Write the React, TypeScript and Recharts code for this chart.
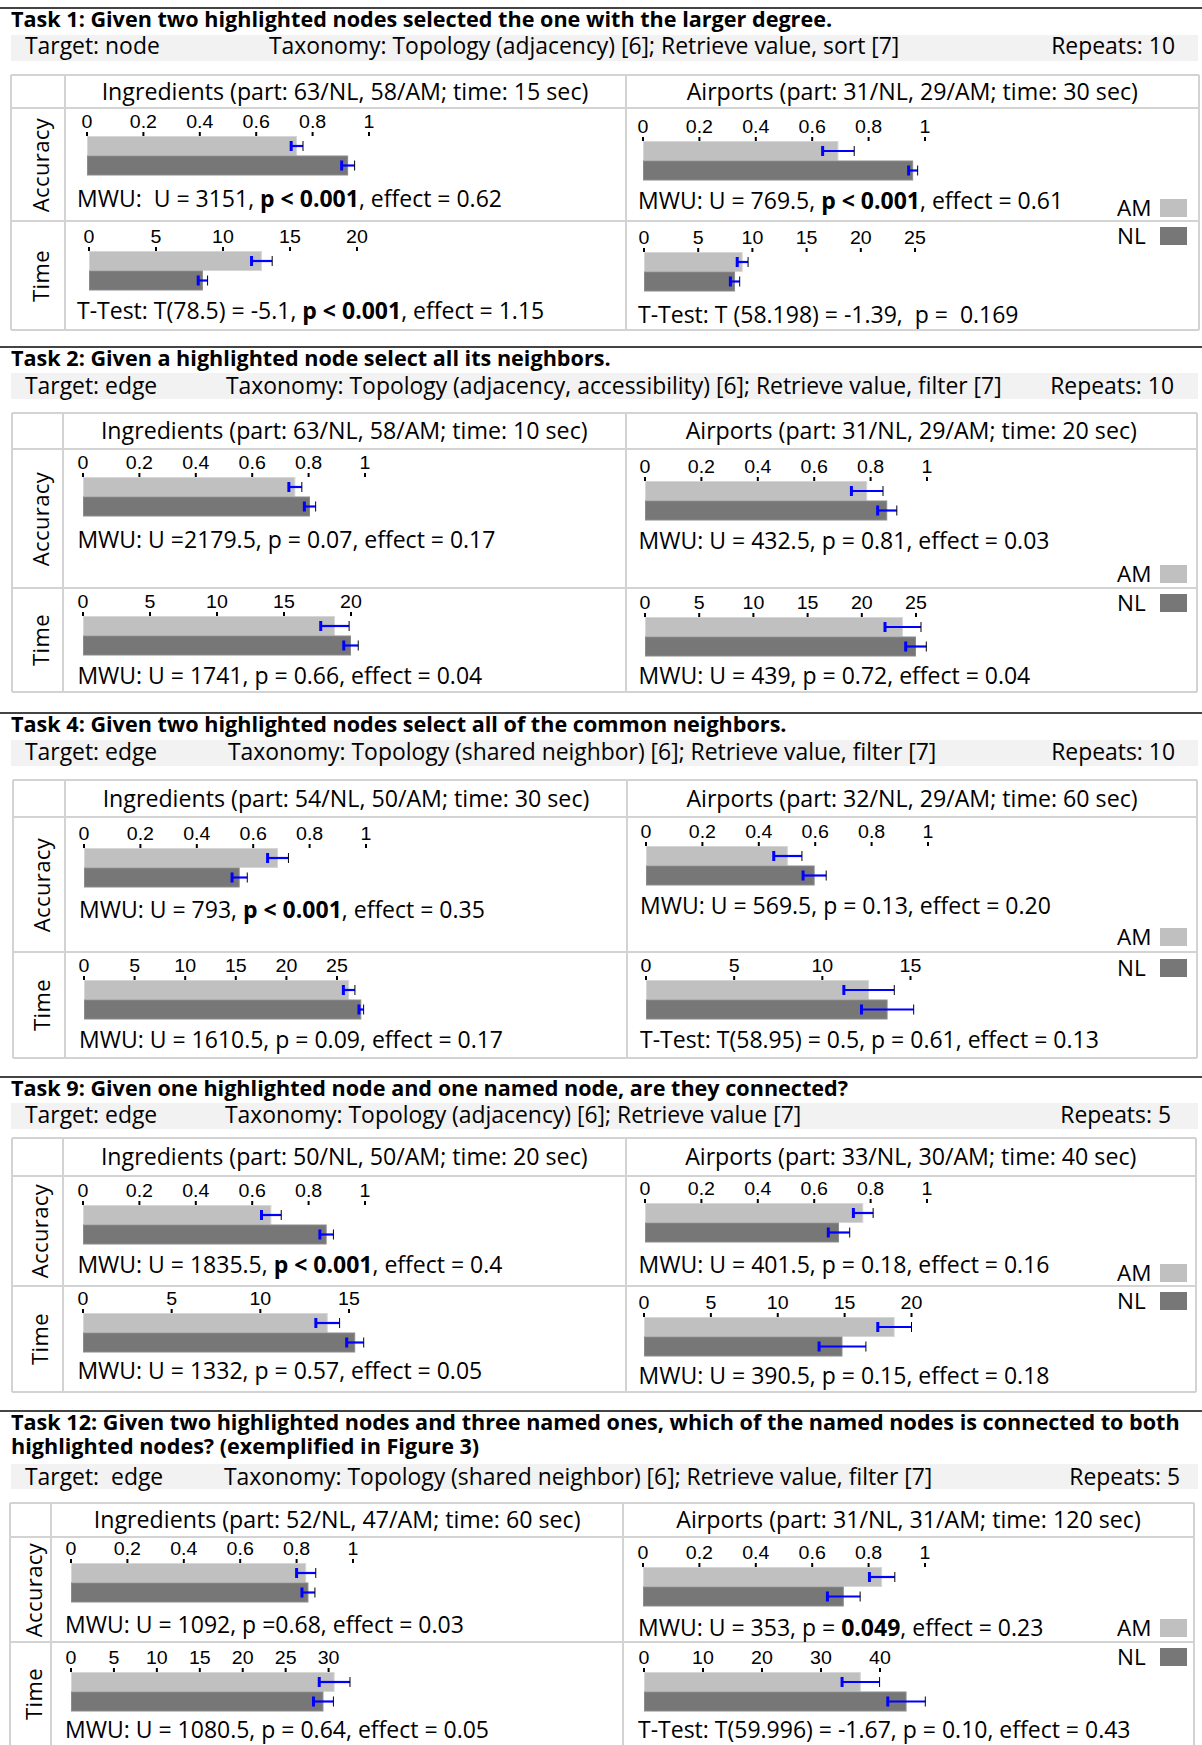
import React from 'react';
import { BarChart, Bar, XAxis, YAxis } from 'recharts';

// groups (bar order top -> bottom)
const groups = ['AM', 'NL'];
const groupFill = ['#c0c0c0', '#777777'];
const groupEdge = ['#d6d6d6', '#8c8c8c'];
const accTicks = [0, 0.2, 0.4, 0.6, 0.8, 1];

// task texts
const taskTitles = [
  'Task 1: Given two highlighted nodes selected the one with the larger degree.',
  'Task 2: Given a highlighted node select all its neighbors.',
  'Task 4: Given two highlighted nodes select all of the common neighbors.',
  'Task 9: Given one highlighted node and one named node, are they connected?',
  'Task 12: Given two highlighted nodes and three named ones, which of the named nodes is connected to both\nhighlighted nodes? (exemplified in Figure 3)',
];
const taskTargets = ['Target: node', 'Target: edge', 'Target: edge', 'Target: edge', 'Target:  edge'];
const taskTaxonomies = [
  'Taxonomy: Topology (adjacency) [6]; Retrieve value, sort [7]',
  'Taxonomy: Topology (adjacency, accessibility) [6]; Retrieve value, filter [7]',
  'Taxonomy: Topology (shared neighbor) [6]; Retrieve value, filter [7]',
  'Taxonomy: Topology (adjacency) [6]; Retrieve value [7]',
  'Taxonomy: Topology (shared neighbor) [6]; Retrieve value, filter [7]',
];
const taskRepeats = ['Repeats: 10', 'Repeats: 10', 'Repeats: 10', 'Repeats: 5', 'Repeats: 5'];
const ingHeaders = [
  'Ingredients (part: 63/NL, 58/AM; time: 15 sec)',
  'Ingredients (part: 63/NL, 58/AM; time: 10 sec)',
  'Ingredients (part: 54/NL, 50/AM; time: 30 sec)',
  'Ingredients (part: 50/NL, 50/AM; time: 20 sec)',
  'Ingredients (part: 52/NL, 47/AM; time: 60 sec)',
];
const airHeaders = [
  'Airports (part: 31/NL, 29/AM; time: 30 sec)',
  'Airports (part: 31/NL, 29/AM; time: 20 sec)',
  'Airports (part: 32/NL, 29/AM; time: 60 sec)',
  'Airports (part: 33/NL, 30/AM; time: 40 sec)',
  'Airports (part: 31/NL, 31/AM; time: 120 sec)',
];

// values [AM, NL] and error half-widths
const t1IngAcc = [0.745, 0.926], t1IngAccErr = [0.021, 0.023];
const t1IngTime = [12.9, 8.5], t1IngTimeErr = [0.77, 0.35];
const t1AirAcc = [0.693, 0.958], t1AirAccErr = [0.056, 0.016];
const t1AirTime = [9.1, 8.4], t1AirTimeErr = [0.5, 0.43];

const t2IngAcc = [0.753, 0.805], t2IngAccErr = [0.023, 0.02];
const t2IngTime = [18.8, 20.0], t2IngTimeErr = [1.06, 0.54];
const t2AirAcc = [0.788, 0.859], t2AirAccErr = [0.056, 0.034];
const t2AirTime = [23.8, 25.0], t2AirTimeErr = [1.66, 0.95];

const t4IngAcc = [0.688, 0.552], t4IngAccErr = [0.037, 0.027];
const t4IngTime = [26.2, 27.4], t4IngTimeErr = [0.57, 0.23];
const t4AirAcc = [0.503, 0.598], t4AirAccErr = [0.05, 0.041];
const t4AirTime = [12.65, 13.7], t4AirTimeErr = [1.43, 1.48];

const t9IngAcc = [0.668, 0.864], t9IngAccErr = [0.035, 0.024];
const t9IngTime = [13.8, 15.35], t9IngTimeErr = [0.67, 0.48];
const t9AirAcc = [0.774, 0.688], t9AirAccErr = [0.035, 0.038];
const t9AirTime = [18.74, 14.84], t9AirTimeErr = [1.26, 1.75];

const t12IngAcc = [0.834, 0.842], t12IngAccErr = [0.034, 0.023];
const t12IngTime = [30.7, 29.4], t12IngTimeErr = [1.79, 1.16];
const t12AirAcc = [0.848, 0.712], t12AirAccErr = [0.045, 0.058];
const t12AirTime = [36.75, 44.5], t12AirTimeErr = [3.18, 3.18];

// time axis ticks [ingredients, airports]
const t1TimeTicks = [[0, 5, 10, 15, 20], [0, 5, 10, 15, 20, 25]];
const t2TimeTicks = [[0, 5, 10, 15, 20], [0, 5, 10, 15, 20, 25]];
const t4TimeTicks = [[0, 5, 10, 15, 20, 25], [0, 5, 10, 15]];
const t9TimeTicks = [[0, 5, 10, 15], [0, 5, 10, 15, 20]];
const t12TimeTicks = [[0, 5, 10, 15, 20, 25, 30], [0, 10, 20, 30, 40]];

// stats lines: ingAcc, airAcc, ingTime, airTime (*...* = bold)
const t1Stats = ['MWU:  U = 3151, *p < 0.001*, effect = 0.62', 'MWU: U = 769.5, *p < 0.001*, effect = 0.61',
  'T-Test: T(78.5) = -5.1, *p < 0.001*, effect = 1.15', 'T-Test: T (58.198) = -1.39,  p =  0.169'];
const t2Stats = ['MWU: U =2179.5, p = 0.07, effect = 0.17', 'MWU: U = 432.5, p = 0.81, effect = 0.03',
  'MWU: U = 1741, p = 0.66, effect = 0.04', 'MWU: U = 439, p = 0.72, effect = 0.04'];
const t4Stats = ['MWU: U = 793, *p < 0.001*, effect = 0.35', 'MWU: U = 569.5, p = 0.13, effect = 0.20',
  'MWU: U = 1610.5, p = 0.09, effect = 0.17', 'T-Test: T(58.95) = 0.5, p = 0.61, effect = 0.13'];
const t9Stats = ['MWU: U = 1835.5, *p < 0.001*, effect = 0.4', 'MWU: U = 401.5, p = 0.18, effect = 0.16',
  'MWU: U = 1332, p = 0.57, effect = 0.05', 'MWU: U = 390.5, p = 0.15, effect = 0.18'];
const t12Stats = ['MWU: U = 1092, p =0.68, effect = 0.03', 'MWU: U = 353, p = *0.049*, effect = 0.23',
  'MWU: U = 1080.5, p = 0.64, effect = 0.05', 'T-Test: T(59.996) = -1.67, p = 0.10, effect = 0.43'];

const series = [
  [[t1IngAcc, t1IngAccErr], [t1AirAcc, t1AirAccErr], [t1IngTime, t1IngTimeErr], [t1AirTime, t1AirTimeErr]],
  [[t2IngAcc, t2IngAccErr], [t2AirAcc, t2AirAccErr], [t2IngTime, t2IngTimeErr], [t2AirTime, t2AirTimeErr]],
  [[t4IngAcc, t4IngAccErr], [t4AirAcc, t4AirAccErr], [t4IngTime, t4IngTimeErr], [t4AirTime, t4AirTimeErr]],
  [[t9IngAcc, t9IngAccErr], [t9AirAcc, t9AirAccErr], [t9IngTime, t9IngTimeErr], [t9AirTime, t9AirTimeErr]],
  [[t12IngAcc, t12IngAccErr], [t12AirAcc, t12AirAccErr], [t12IngTime, t12IngTimeErr], [t12AirTime, t12AirTimeErr]],
];
const timeTicks = [t1TimeTicks, t2TimeTicks, t4TimeTicks, t9TimeTicks, t12TimeTicks];
const stats = [t1Stats, t2Stats, t4Stats, t9Stats, t12Stats];

// page layout (px). charts: [zeroX, barTop, spanToLastTick] for ingAcc, airAcc, ingTime, airTime
const layouts = [
  { rule: 7, titleCap: 12, band: [35, 61], subCap: 39, taxX: 269, repRight: 1175,
    tx: [11, 64.5, 625.5, 1199], ty: [75, 108, 221, 330],
    charts: [[86.5, 136, 282], [643, 140.5, 282], [89.4, 251, 268], [644, 252, 271]],
    statX: [77, 638], statCap: [191, 193, 303, 307], legend: [199, 227] },
  { rule: 346, titleCap: 351, band: [373, 399], subCap: 379, taxX: 226, repRight: 1174,
    tx: [12, 63, 625.5, 1197], ty: [413, 449, 588, 692],
    charts: [[82.8, 476.7, 282], [644.7, 480.7, 282], [82.8, 616, 268], [644.7, 617, 271]],
    statX: [77.4, 638.6], statCap: [531.7, 533, 668, 668], legend: [565, 594] },
  { rule: 712, titleCap: 717, band: [740, 766], subCap: 745, taxX: 228, repRight: 1175,
    tx: [13, 65, 627, 1197], ty: [780, 817, 952, 1058],
    charts: [[83.6, 848, 282], [646, 846, 282], [83.6, 980, 253], [646, 980, 264.5]],
    statX: [79, 640], statCap: [902, 898, 1032, 1032], legend: [928, 959] },
  { rule: 1076, titleCap: 1081, band: [1103, 1129], subCap: 1108, taxX: 225, repRight: 1171,
    tx: [11.5, 63, 625.5, 1196], ty: [1138, 1176, 1286, 1392],
    charts: [[82.8, 1205, 282], [644.5, 1203, 282], [82.8, 1313, 266], [644, 1317, 267.5]],
    statX: [77.4, 638.6], statCap: [1257, 1257, 1363, 1368], legend: [1264, 1292] },
  { rule: 1410, titleCap: 1415, band: [1464, 1489], subCap: 1469.5, taxX: 224, repRight: 1180,
    tx: [10, 51.4, 623, 1194], ty: [1503, 1537, 1642, 1770],
    charts: [[70.5, 1563, 282], [643, 1567, 282], [70.5, 1672, 257.6], [644, 1672, 236]],
    statX: [65, 638], statCap: [1617, 1620, 1722, 1722], legend: [1619, 1648] },
];

const FONT = "'Open Sans', Lato, sans-serif";
const TICK_FONT = "'Liberation Sans', Arial, sans-serif";
const GRID = '#d3d3d3';
const SZ_TITLE = 21.6, SZ_SUB = 22.9, SZ_HEAD = 23.2, SZ_STAT = 23, SZ_ROW = 22, SZ_LEG = 22.5;
const TITLE_LH = 24.5;

const rich = (s: string) =>
  s.split('*').map((part, i) => (i % 2 ? <b key={i}>{part}</b> : <span key={i}>{part}</span>));

// cap: y of the first line's cap top
const Txt = ({ x, cap, size = SZ_STAT, lh, bold = false, right, children }: any) => {
  const lineH = lh ?? size;
  const style: any = {
    position: 'absolute', top: cap - (lineH / 2 - 0.326 * size), fontSize: size, lineHeight: `${lineH}px`,
    fontWeight: bold ? 700 : 400, whiteSpace: 'pre', fontFamily: FONT, color: '#000',
  };
  if (right !== undefined) style.right = 1202 - right;
  else style.left = x;
  return <div style={style}>{children}</div>;
};

const Box = ({ l, t, w, h, bg }: any) => (
  <div style={{ position: 'absolute', left: l, top: t, width: w, height: h, background: bg }} />
);

// tick label drawn a little wide, like the source
const WideTick = ({ x, y, payload }: any) => (
  <text transform={`translate(${x},${y}) scale(1.12,1)`} textAnchor="middle"
    fontSize={17.5} fontFamily={TICK_FONT} fill="#000">{payload.value}</text>
);

const BarWithError = (p: any) => {
  const { x, y, width, height, index, payload } = p;
  const k = width / payload.value;
  const e = payload.err * k;
  const ex = x + width;
  const cy = y + height / 2;
  return (
    <g>
      <rect x={x + 0.5} y={y + 0.5} width={width - 1} height={height - 1}
        fill={groupFill[index]} stroke={groupEdge[index]} strokeWidth={1} />
      <line x1={ex - e} x2={ex + e} y1={cy} y2={cy} stroke="#0000ff" strokeWidth={2.2} />
      <line x1={ex - e} x2={ex - e} y1={cy - 5} y2={cy + 5} stroke="#0000ff" strokeWidth={3} />
      <line x1={ex + e} x2={ex + e} y1={cy - 5} y2={cy + 5} stroke="#000" strokeWidth={1} />
    </g>
  );
};

const MiniBars = ({ zeroX, barTop, span, ticks, vals, errs }: any) => {
  const W = 420, ml = 14, axisH = 30, plotH = 39, mb = 3;
  const plotW = W - ml;
  const last = ticks[ticks.length - 1];
  const dmax = (last * plotW) / span;
  const data = groups.map((g, i) => ({ name: g, value: vals[i], err: errs[i] }));
  return (
    <div style={{ position: 'absolute', left: zeroX - ml, top: barTop - axisH }}>
      <BarChart width={W} height={axisH + plotH + mb} data={data} layout="vertical"
        margin={{ top: 0, right: 0, bottom: mb, left: ml }} barCategoryGap={0} barGap={0}>
        <XAxis type="number" orientation="top" domain={[0, dmax]} ticks={ticks} interval={0}
          height={axisH} axisLine={false} tickSize={4} tickMargin={4}
          tickLine={{ stroke: '#000', strokeWidth: 2 }} tick={<WideTick />} />
        <YAxis type="category" dataKey="name" width={0} tick={false} tickLine={false}
          axisLine={{ stroke: '#000', strokeWidth: 1.5 }} />
        <Bar dataKey="value" shape={BarWithError} isAnimationActive={false} />
      </BarChart>
    </div>
  );
};

const Task = ({ i }: { i: number }) => {
  const L = layouts[i];
  const [x0, x1, x2, x3] = L.tx;
  const [y0, y1, y2, y3] = L.ty;
  const tickSets = [accTicks, accTicks, timeTicks[i][0], timeTicks[i][1]];
  return (
    <>
      <Box l={0} t={L.rule} w={1202} h={1.5} bg="#444" />
      <Txt x={11} cap={L.titleCap} size={SZ_TITLE} lh={TITLE_LH} bold>{taskTitles[i]}</Txt>
      <Box l={11} t={L.band[0]} w={1187} h={L.band[1] - L.band[0]} bg="#f2f2f2" />
      <Txt x={25} cap={L.subCap} size={SZ_SUB}>{taskTargets[i]}</Txt>
      <Txt x={L.taxX} cap={L.subCap} size={SZ_SUB}>{taskTaxonomies[i]}</Txt>
      <Txt right={L.repRight} cap={L.subCap} size={SZ_SUB}>{taskRepeats[i]}</Txt>

      {/* table grid */}
      {[y0, y1, y2, y3].map((y, j) => <Box key={'h' + j} l={x0} t={y - 1} w={x3 - x0} h={2} bg={GRID} />)}
      {[x0, x1, x2, x3].map((x, j) => <Box key={'v' + j} l={x - 1} t={y0} w={2} h={y3 - y0} bg={GRID} />)}

      {/* column headers */}
      {[[x1, x2, ingHeaders[i]], [x2, x3, airHeaders[i]]].map(([a, b, s]: any, j) => (
        <div key={'c' + j} style={{ position: 'absolute', left: a, width: b - a, top: y0, height: y1 - y0,
          display: 'flex', alignItems: 'center', justifyContent: 'center',
          fontFamily: FONT, fontSize: SZ_HEAD, lineHeight: `${SZ_HEAD}px`, whiteSpace: 'pre' }}>{s}</div>
      ))}

      {/* row labels */}
      {[['Accuracy', y1, y2], ['Time', y2, y3 > 1745 ? 1745 : y3]].map(([s, a, b]: any, j) => (
        <div key={'r' + j} style={{ position: 'absolute', left: (x0 + x1) / 2 + 2, top: (a + b) / 2,
          transform: 'translate(-50%, -50%) rotate(-90deg)', fontFamily: FONT, fontSize: SZ_ROW,
          letterSpacing: 0.4, whiteSpace: 'pre', lineHeight: `${SZ_ROW}px` }}>{s}</div>
      ))}

      {/* charts + stats */}
      {L.charts.map(([zx, bt, span], j) => (
        <MiniBars key={'m' + j} zeroX={zx} barTop={bt} span={span} ticks={tickSets[j]}
          vals={series[i][j][0]} errs={series[i][j][1]} />
      ))}
      {stats[i].map((s, j) => (
        <Txt key={'s' + j} x={L.statX[j % 2]} cap={L.statCap[j]}>{rich(s)}</Txt>
      ))}

      {/* legend */}
      {groups.map((g, j) => (
        <React.Fragment key={'l' + j}>
          <Txt x={1117} cap={L.legend[j] + 1.5} size={SZ_LEG}>{g}</Txt>
          <Box l={1160} t={L.legend[j]} w={27} h={18} bg={groupFill[j]} />
        </React.Fragment>
      ))}
    </>
  );
};

export default function App() {
  return (
    <div style={{ position: 'absolute', left: 0, top: 0, width: 1202, height: 1745, overflow: 'hidden',
      background: '#fff', fontFamily: FONT }}>
      {layouts.map((_, i) => <Task key={i} i={i} />)}
    </div>
  );
}
